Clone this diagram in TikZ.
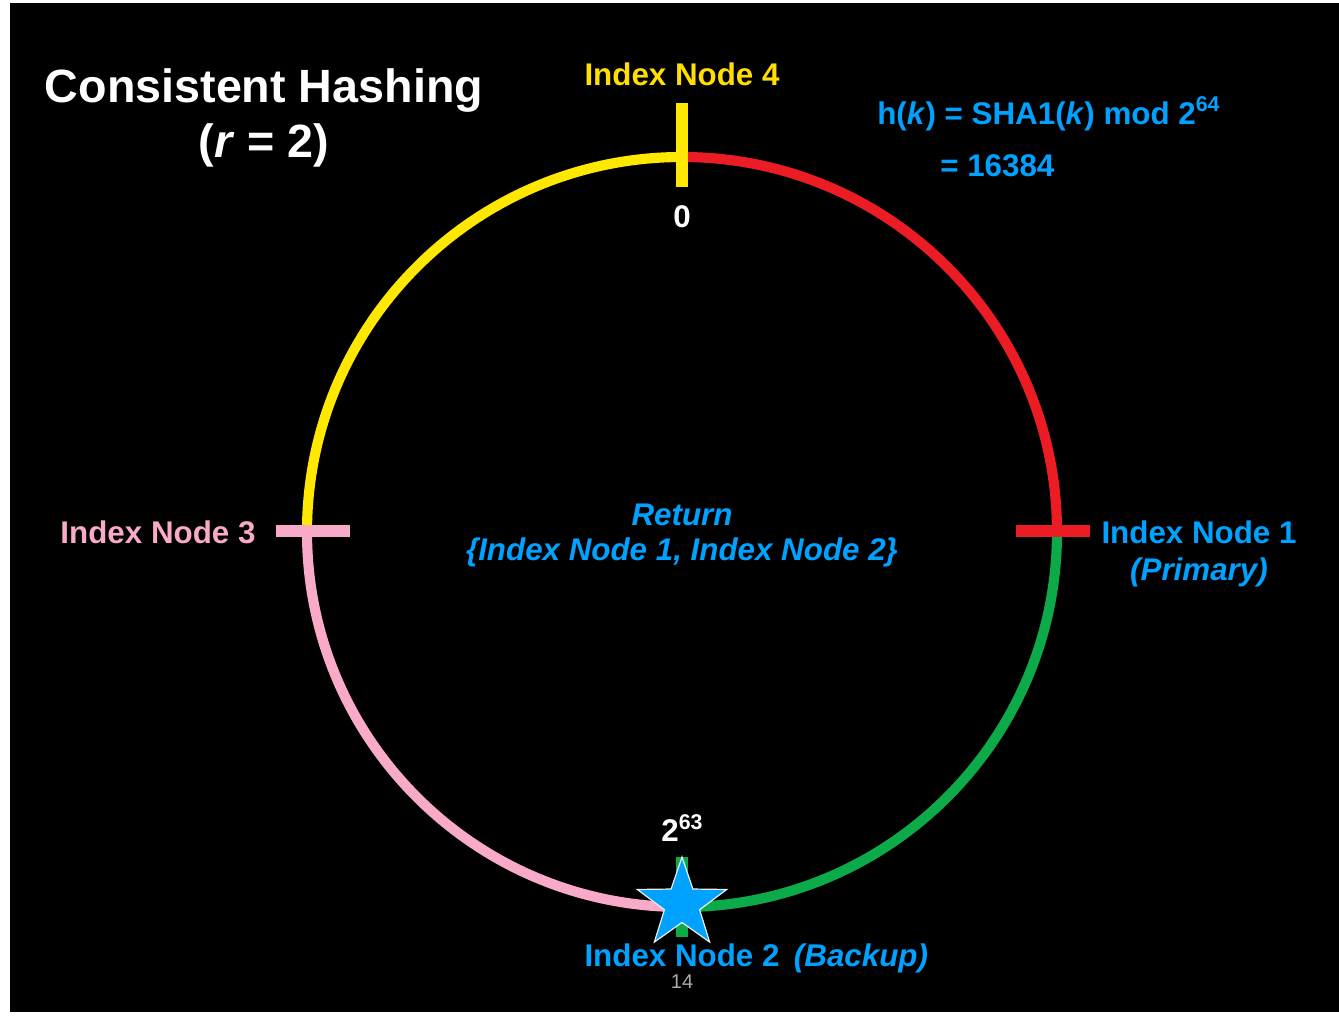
\documentclass[tikz,border=0pt]{standalone}
\usepackage{fontspec}
\setmainfont{Liberation Sans}
\definecolor{ringyellow}{RGB}{255,232,0}
\definecolor{ringred}{RGB}{236,28,36}
\definecolor{ringgreen}{RGB}{12,170,72}
\definecolor{ringpink}{RGB}{248,170,200}
\definecolor{hashblue}{RGB}{0,162,255}
\definecolor{labelyellow}{RGB}{255,222,0}
\definecolor{pagegray}{RGB}{170,170,170}
\begin{document}
\begin{tikzpicture}[x=0.75pt,y=0.75pt,
  ring/.style={line width=7.6pt},
  tick/.style={line width=9pt},
  lbl/.style={inner sep=0pt,font=\fontsize{23.5}{27}\selectfont\bfseries},
  ttl/.style={inner sep=0pt,text=white,font=\fontsize{35}{40}\selectfont\bfseries}]
% page and slide background
\useasboundingbox[fill=white] (0,0) rectangle (1339,1015);
\fill[black] (10,3) rectangle (1339,1012);

% the hash ring
\coordinate (c) at (682,483);
\coordinate (top) at (682,858);
\coordinate (left) at (307,483);
\coordinate (right) at (1057,483);
\coordinate (bottom) at (682,108);
\draw[ring,ringyellow] (top) arc[start angle=90,end angle=180,radius=375];
\draw[ring,ringred] (top) arc[start angle=90,end angle=0,radius=375];
\draw[ring,ringgreen] (right) arc[start angle=0,end angle=-90,radius=375];
\draw[ring,ringpink] (left) arc[start angle=180,end angle=270,radius=375];

% node position marks
\draw[tick,ringyellow] (682,828) -- (682,912);
\draw[tick,ringred] (1016,484) -- (1090,484);
\draw[tick,ringpink] (276,484) -- (350,484);
\draw[tick,ringgreen,line width=8.3pt] (682,78) -- (682,158);

% key position
\coordinate (key) at (682,111);
\filldraw[fill=hashblue,draw=white!85!gray,line width=0.9pt,shift={(key)}]
  (90:47) -- (126:18.5) -- (162:47) -- (198:18.5) -- (234:47) -- (270:18.5)
  -- (306:47) -- (342:18.5) -- (18:47) -- (54:18.5) -- cycle;

% title
\node[ttl] (title) at (264,924) {Consistent Hashing};
\node[ttl] (rval) at (264,870) {(\textit{r} = 2)};

% ring labels
\node[lbl,text=labelyellow] (n4) at (682,941) {Index Node 4};
\node[lbl,text=white] (zero) at (682,798) {0};
\node[lbl,text=white] (half) at (682,187) {2\raisebox{0.4em}{\fontsize{16}{18}\selectfont 63}};
\node[lbl,text=hashblue] (n1) at (1199,483) {Index Node 1};
\node[lbl,text=hashblue] (n1p) at (1199,443) {\itshape(Primary)};
\node[lbl,text=ringpink] (n3) at (158,483) {Index Node 3};
\node[lbl,text=hashblue,anchor=base] (n2) at (682,49) {Index Node 2};
\node[lbl,text=hashblue,anchor=base] (n2b) at (861,49) {\itshape(Backup)};

% hash function
\node[lbl,text=hashblue,anchor=west] (hash) at (877,901)
  {h(\textit{k}) = SHA1(\textit{k}) mod 2\raisebox{0.4em}{\fontsize{16}{18}\selectfont 64}};
\node[lbl,text=hashblue,anchor=west] (hashval) at (940,849) {= 16384};

% lookup result
\node[lbl,text=hashblue] (ret) at (682,500) {\itshape Return};
\node[lbl,text=hashblue] (retset) at (682,463) {\itshape\{Index Node 1, Index Node 2\}};

% slide number
\node[inner sep=0pt,text=pagegray,font=\fontsize{15}{18}\selectfont] (pg) at (682,33) {14};
\end{tikzpicture}
\end{document}
